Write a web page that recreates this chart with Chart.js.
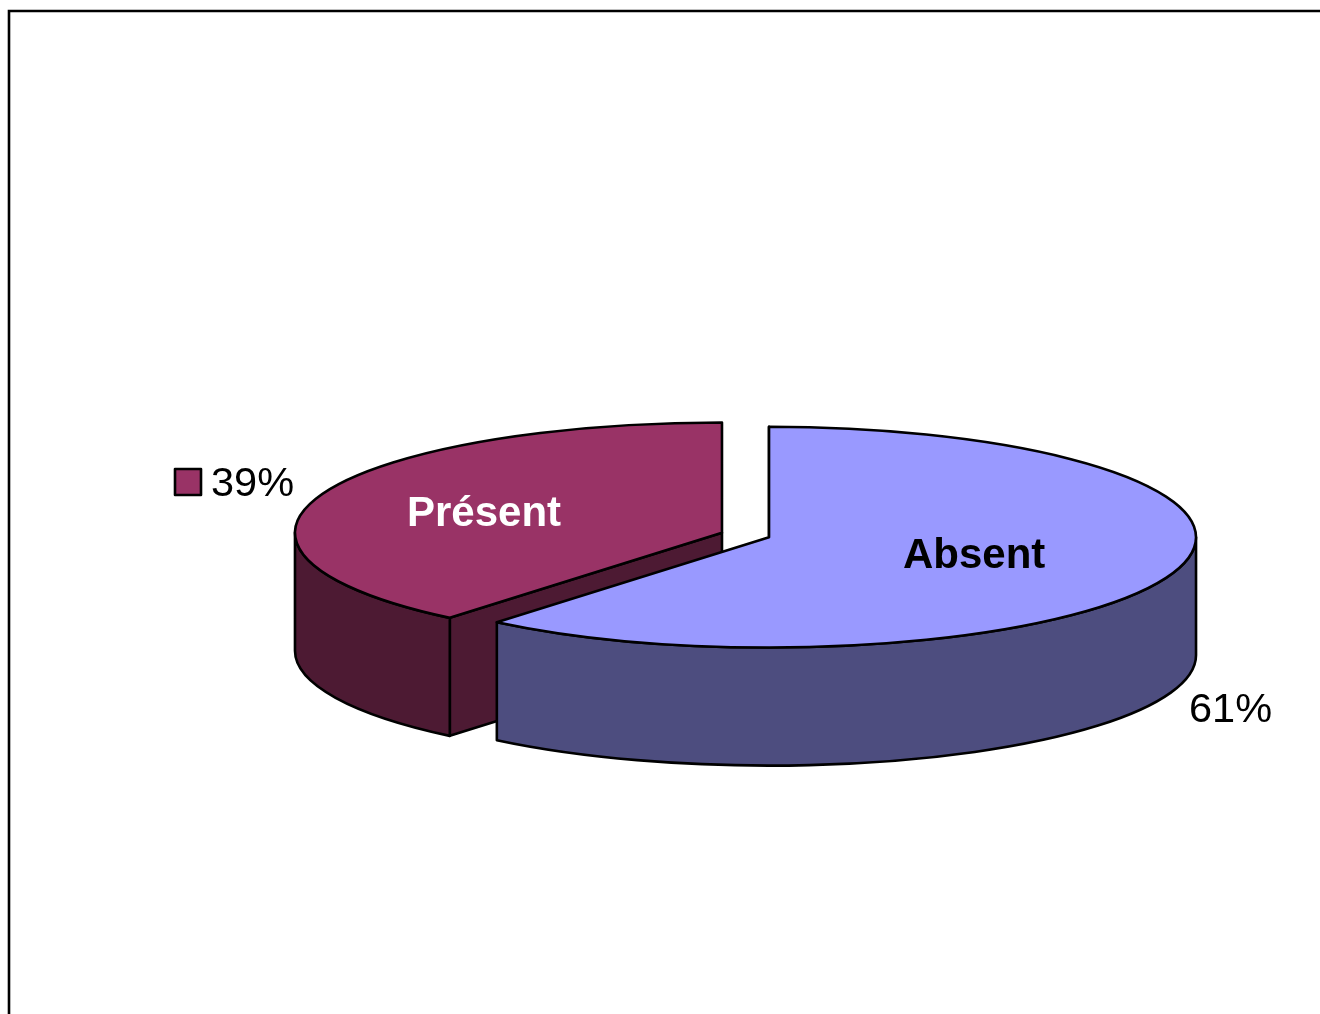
<!DOCTYPE html>
<html>
<head>
<meta charset="utf-8">
<title>Présent / Absent</title>
<script src="https://cdn.jsdelivr.net/npm/chart.js@4/dist/chart.umd.min.js"></script>
<style>
    html, body { margin: 0; background: #fff; overflow: hidden; }
    canvas { display: block; }
</style>
</head>
<body>
<canvas id="pie" width="1320" height="1014"></canvas>
<script>
const categories = ['Absent', 'Présent'];
const values = [61, 39];
const percentLabels = ['61%', '39%'];

const topColors = ['#9999FF', '#993366'];
const sideColors = ['#4D4D7F', '#4D1A33'];
const FONT = '"Liberation Sans", Arial, sans-serif';
const TILT = 0.2585;  // flattening of the pie into an ellipse
const DEPTH = 118;    // height of the side wall in px
const EXPLODE = 25;   // how far each slice is pulled out of the middle
const LINE = 2.6;

function squash(ctx, arc) {
    ctx.translate(0, arc.y);
    ctx.scale(1, TILT);
    ctx.translate(0, -arc.y);
}

function shiftOf(arc) {
    const mid = (arc.startAngle + arc.endAngle) / 2;
    return { x: Math.cos(mid) * EXPLODE, y: Math.sin(mid) * EXPLODE };
}

function paint(ctx, fill) {
    ctx.lineWidth = LINE;
    ctx.lineJoin = 'round';
    ctx.strokeStyle = '#000';
    if (fill) {
        ctx.fillStyle = fill;
        ctx.fill();
    }
    ctx.stroke();
}

function drawSides(ctx, arc, color) {
    const s = shiftOf(arc);
    const cx = arc.x + s.x;
    const cy = arc.y + s.y;
    const r = arc.outerRadius;
    const a = arc.startAngle;
    const d = DEPTH / TILT;

    // cut face at the start of the slice
    ctx.save();
    squash(ctx, arc);
    ctx.beginPath();
    ctx.moveTo(cx, cy);
    ctx.lineTo(cx + Math.cos(a) * r, cy + Math.sin(a) * r);
    ctx.lineTo(cx + Math.cos(a) * r, cy + Math.sin(a) * r + d);
    ctx.lineTo(cx, cy + d);
    ctx.closePath();
    ctx.restore();
    paint(ctx, color);

    // outer wall, front half of the ellipse only
    const from = Math.max(arc.startAngle, 0);
    const to = Math.min(arc.endAngle, Math.PI);
    ctx.save();
    squash(ctx, arc);
    ctx.beginPath();
    ctx.arc(cx, cy, r, from, to);
    ctx.arc(cx, cy + d, r, to, from, true);
    ctx.closePath();
    ctx.restore();
    paint(ctx, color);
}

function drawTop(ctx, arc) {
    const s = shiftOf(arc);

    ctx.save();
    squash(ctx, arc);
    ctx.translate(s.x, s.y);
    arc.draw(ctx);
    ctx.restore();

    // outline in screen space so the line keeps its width
    ctx.save();
    squash(ctx, arc);
    ctx.beginPath();
    ctx.moveTo(arc.x + s.x, arc.y + s.y);
    ctx.arc(arc.x + s.x, arc.y + s.y, arc.outerRadius, arc.startAngle, arc.endAngle);
    ctx.closePath();
    ctx.restore();
    paint(ctx);
}

const pie3d = {
    id: 'pie3d',
    beforeDatasetDraw(chart, args) {
        const ctx = chart.ctx;
        const arcs = args.meta.data;

        // back slice first so the front one covers it
        for (let i = arcs.length - 1; i >= 0; i--) {
            drawSides(ctx, arcs[i], sideColors[i]);
        }
        for (let i = arcs.length - 1; i >= 0; i--) {
            drawTop(ctx, arcs[i]);
        }
        return false;
    },
    afterDraw(chart) {
        const ctx = chart.ctx;

        // chart frame, open on the right and at the bottom
        ctx.beginPath();
        ctx.moveTo(9, 1014);
        ctx.lineTo(9, 11);
        ctx.lineTo(1320, 11);
        ctx.lineWidth = LINE;
        ctx.lineJoin = 'miter';
        ctx.strokeStyle = '#000';
        ctx.stroke();

        // legend key in front of the 39% label
        ctx.beginPath();
        ctx.rect(175, 469, 26, 26);
        paint(ctx, topColors[1]);

        ctx.textAlign = 'left';
        ctx.textBaseline = 'alphabetic';
        ctx.font = 'bold 42px ' + FONT;
        ctx.fillStyle = '#000';
        ctx.fillText(categories[0], 903, 568);
        ctx.fillStyle = '#fff';
        ctx.fillText(categories[1], 407, 526);

        ctx.font = '41.5px ' + FONT;
        ctx.fillStyle = '#000';
        ctx.fillText(percentLabels[0], 1189, 722);
        ctx.fillText(percentLabels[1], 211, 496);
    }
};

new Chart(document.getElementById('pie'), {
    type: 'pie',
    data: {
        labels: categories,
        datasets: [{
            data: values,
            backgroundColor: topColors,
            borderWidth: 0
        }]
    },
    options: {
        responsive: false,
        animation: false,
        radius: 427,
        layout: { padding: { left: 171, top: 56 } },
        plugins: { legend: { display: false }, tooltip: { enabled: false } }
    },
    plugins: [pie3d]
});
</script>
</body>
</html>
